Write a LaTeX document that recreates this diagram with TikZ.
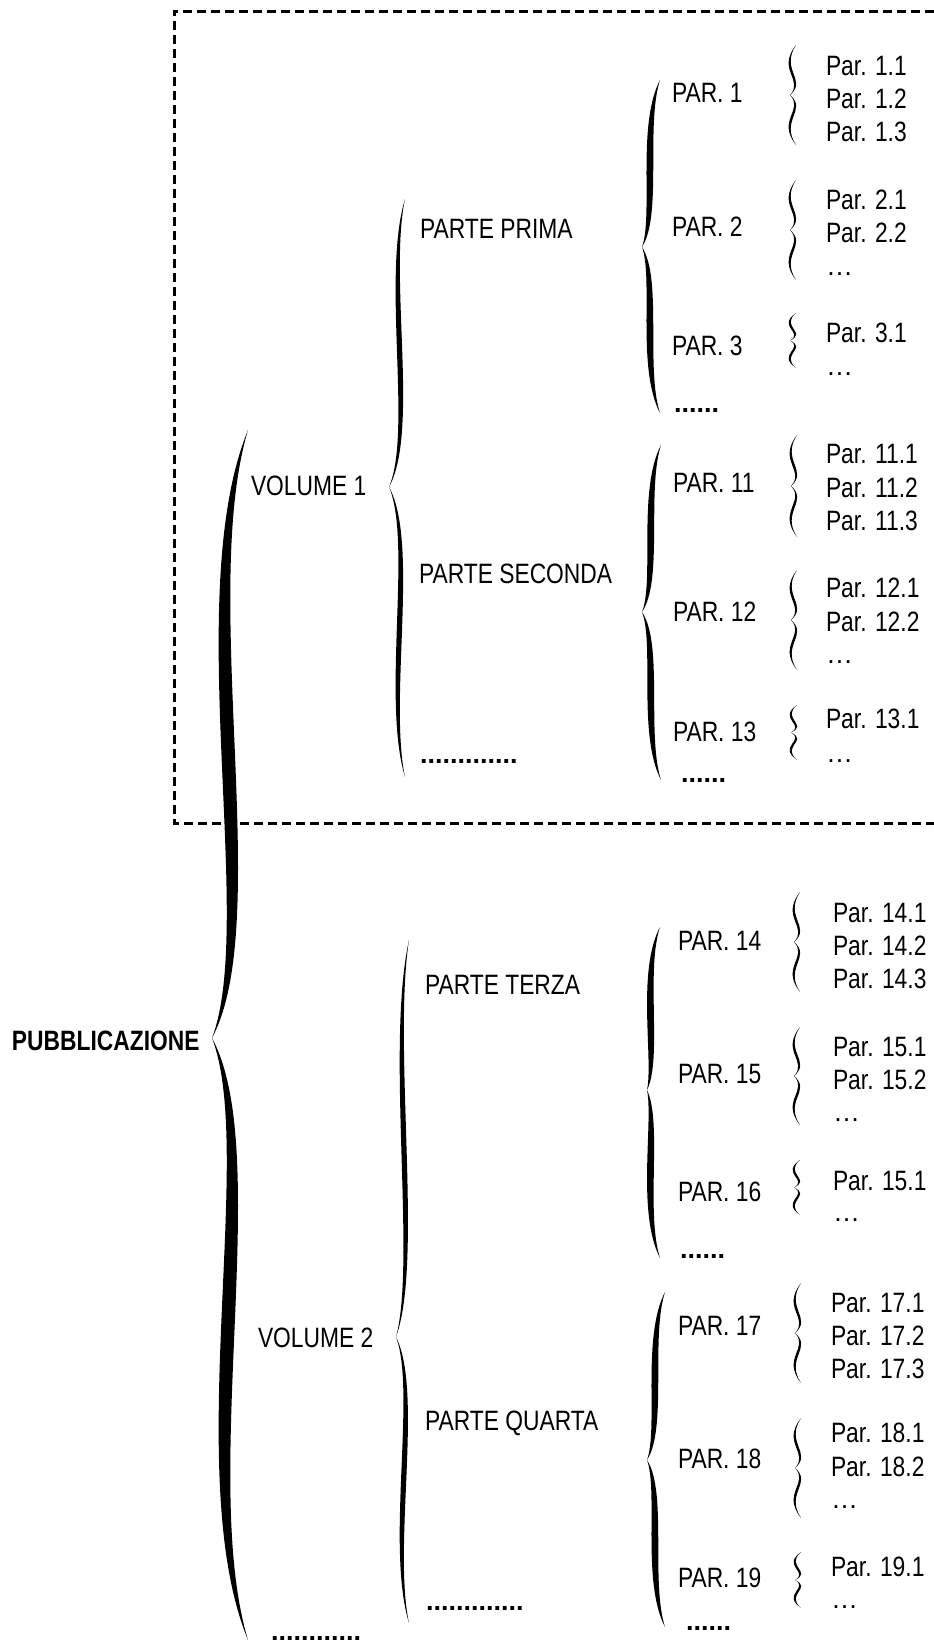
\documentclass[tikz,border=0pt]{standalone}
\usepackage{fontspec}
\setmainfont{Liberation Sans}[FakeStretch=0.815]
\newfontfamily\plainsans{Liberation Sans}
% half brace: x0 y0 c1x c1y c2x c2y x3 y3 d
\newcommand\halfbr[9]{%
  \fill (#1,#2) .. controls ({#3-#9/2},#4) and ({#5-#9/2},#6) .. (#7,#8)
    .. controls ({#5+#9/2},#6) and ({#3+#9/2},#4) .. (#1,#2) -- cycle;}
% full brace: xe ytop xt ytip ybot a b d
\newcommand\brc[8]{%
  \pgfmathsetmacro\bAy{#2+0.27*(#4-#2)}%
  \pgfmathsetmacro\bBy{#2+0.81*(#4-#2)}%
  \pgfmathsetmacro\bCy{#5-0.81*(#5-#4)}%
  \pgfmathsetmacro\bDy{#5-0.27*(#5-#4)}%
  \pgfmathsetmacro\bL{#1-#6}%
  \pgfmathsetmacro\bR{#1+#7}%
  \halfbr{#1}{#2}{\bL}{\bAy}{\bR}{\bBy}{#3}{#4}{#8}%
  \halfbr{#1}{#5}{\bL}{\bDy}{\bR}{\bCy}{#3}{#4}{#8}}
% small brace: xe ytop ybot
\newcommand\smbr[3]{%
  \pgfmathsetmacro\sH{(#3-#2)/2}%
  \pgfmathsetmacro\sM{#2+\sH}%
  \pgfmathsetmacro\sA{#2+0.5*\sH}%
  \pgfmathsetmacro\sB{#2+0.7*\sH}%
  \pgfmathsetmacro\sC{#3-0.7*\sH}%
  \pgfmathsetmacro\sD{#3-0.5*\sH}%
  \pgfmathsetmacro\sL{#1-18}%
  \pgfmathsetmacro\sR{#1+10}%
  \pgfmathsetmacro\sT{#1-6}%
  \halfbr{#1}{#2}{\sL}{\sA}{\sR}{\sB}{\sT}{\sM}{3.5}%
  \halfbr{#1}{#3}{\sL}{\sD}{\sR}{\sC}{\sT}{\sM}{3.5}}
\tikzset{
  lbl/.style={anchor=base west, inner sep=0pt, outer sep=0pt, font=\fontsize{28}{33}\selectfont},
  ttl/.style={lbl, font=\fontsize{28}{33}\selectfont\bfseries},
  dts/.style={lbl, font=\plainsans\bfseries\fontsize{27}{33}\selectfont},
  ell/.style={lbl, font=\plainsans\fontsize{27}{33}\selectfont},
  dashframe/.style={line width=3pt, dash pattern=on 9pt off 5pt}
}
\begin{document}
\begin{tikzpicture}[x=1pt,y=-1pt]
\useasboundingbox (0,0) rectangle (934,1644);
\fill[white] (0,0) rectangle (934,1644);
% dashed frame
\draw[dashframe] (934,11) -- (174,11) -- (174,823) -- (934,823);
% big brace
\brc{248}{430}{212}{1038}{1640}{58}{17}{18}
% volume braces
\brc{405}{199}{389}{487}{777}{20}{11}{7}
\brc{409}{940}{396}{1337}{1623}{20}{11}{7}
% group braces
\brc{660}{80}{642}{247}{413}{19}{-2}{9}
\brc{661}{445}{642}{612}{780}{19}{-2}{9}
\brc{660}{927}{647}{1090}{1258}{19}{-2}{9}
\brc{665}{1292}{647}{1460}{1627}{19}{-2}{9}
% small braces
\smbr{796}{45}{145}
\smbr{796}{180}{280}
\smbr{796}{313}{368}
\smbr{797}{435}{537}
\smbr{797}{570}{670}
\smbr{797}{705}{760}
\smbr{800}{892}{992}
\smbr{800}{1027}{1125}
\smbr{800}{1160}{1215}
\smbr{801}{1283}{1383}
\smbr{801}{1418}{1518}
\smbr{801}{1552}{1608}
% top levels
\node[ttl] (pub) at (12,1050) {PUBBLICAZIONE};
\node[lbl] (vol1) at (251,495) {VOLUME 1};
\node[lbl] (vol2) at (258,1347) {VOLUME 2};
\node[dts] (vdots) at (271,1640) {............};
\node[lbl] (pt1) at (420,238) {PARTE PRIMA};
\node[lbl] (pt2) at (419,583) {PARTE SECONDA};
\node[dts] (ptd1) at (420,763) {.............};
\node[lbl] (pt3) at (425,994) {PARTE TERZA};
\node[lbl] (pt4) at (425,1430) {PARTE QUARTA};
\node[dts] (ptd2) at (426,1610) {.............};
% group 1
\node[lbl] (p1) at (672,102) {PAR. 1};
\node[lbl] (p2) at (672,236) {PAR. 2};
\node[lbl] (p3) at (672,355) {PAR. 3};
\node[dts] (g1d) at (674,412) {......};
\node[lbl] (p11a) at (826,75) {Par. 1.1};
\node[lbl] (p12a) at (826,108) {Par. 1.2};
\node[lbl] (p13a) at (826,141) {Par. 1.3};
\node[lbl] (p21a) at (826,209) {Par. 2.1};
\node[lbl] (p22a) at (826,242) {Par. 2.2};
\node[ell] (p2e) at (826,275) {…};
\node[lbl] (p31a) at (826,342) {Par. 3.1};
\node[ell] (p3e) at (826,375) {…};
% group 2
\node[lbl] (p11) at (673,492) {PAR. 11};
\node[lbl] (p12) at (673,621) {PAR. 12};
\node[lbl] (p13) at (673,741) {PAR. 13};
\node[dts] (g2d) at (681,782) {......};
\node[lbl] (p111) at (826,463) {Par. 11.1};
\node[lbl] (p112) at (826,497) {Par. 11.2};
\node[lbl] (p113) at (826,530) {Par. 11.3};
\node[lbl] (p121) at (826,597) {Par. 12.1};
\node[lbl] (p122) at (826,631) {Par. 12.2};
\node[ell] (p12e) at (826,663) {…};
\node[lbl] (p131) at (826,728) {Par. 13.1};
\node[ell] (p13e) at (826,762) {…};
% group 3
\node[lbl] (p14) at (678,950) {PAR. 14};
\node[lbl] (p15) at (678,1083) {PAR. 15};
\node[lbl] (p16) at (678,1201) {PAR. 16};
\node[dts] (g3d) at (680,1258) {......};
\node[lbl] (p141) at (833,922) {Par. 14.1};
\node[lbl] (p142) at (833,955) {Par. 14.2};
\node[lbl] (p143) at (833,988) {Par. 14.3};
\node[lbl] (p151) at (833,1056) {Par. 15.1};
\node[lbl] (p152) at (833,1089) {Par. 15.2};
\node[ell] (p15e) at (833,1121) {…};
\node[lbl] (p161) at (833,1190) {Par. 15.1};
\node[ell] (p16e) at (833,1221) {…};
% group 4
\node[lbl] (p17) at (678,1335) {PAR. 17};
\node[lbl] (p18) at (678,1468) {PAR. 18};
\node[lbl] (p19) at (678,1587) {PAR. 19};
\node[dts] (g4d) at (686,1630) {......};
\node[lbl] (p171) at (831,1312) {Par. 17.1};
\node[lbl] (p172) at (831,1345) {Par. 17.2};
\node[lbl] (p173) at (831,1378) {Par. 17.3};
\node[lbl] (p181) at (831,1442) {Par. 18.1};
\node[lbl] (p182) at (831,1476) {Par. 18.2};
\node[ell] (p18e) at (831,1508) {…};
\node[lbl] (p191) at (831,1576) {Par. 19.1};
\node[ell] (p19e) at (831,1608) {…};
\end{tikzpicture}
\end{document}
